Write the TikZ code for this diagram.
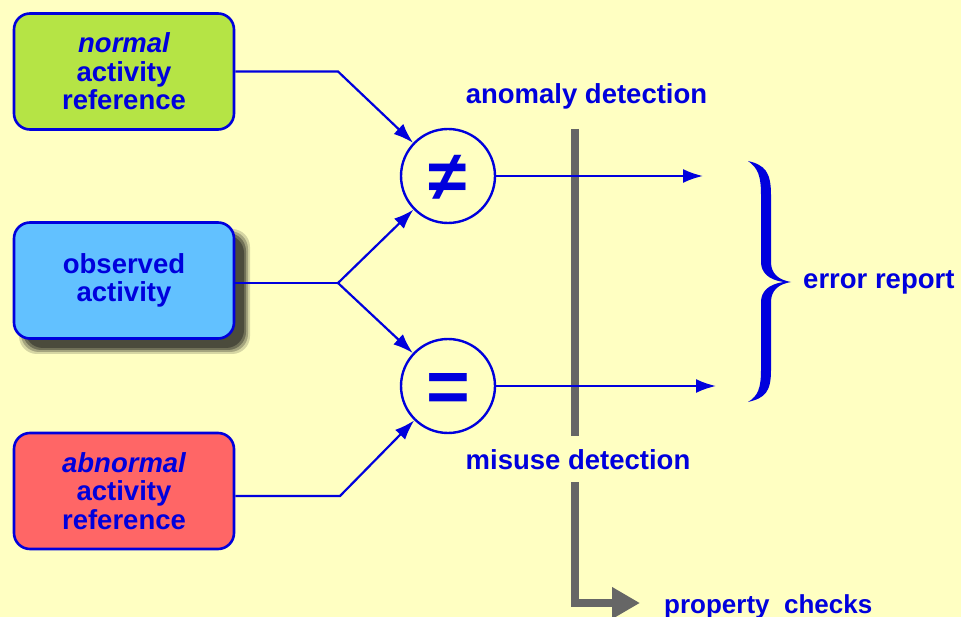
\documentclass[tikz,border=0pt]{standalone}
\usepackage{fontspec}
\setmainfont{Liberation Sans}
\usetikzlibrary{arrows.meta}
\definecolor{bg}{HTML}{FFFFC2}
\definecolor{ink}{HTML}{0000DD}
\definecolor{lgreen}{HTML}{B5E445}
\definecolor{lblue}{HTML}{62C1FF}
\definecolor{lred}{HTML}{FF6666}
\definecolor{barc}{HTML}{666666}
\definecolor{shadowc}{HTML}{33332A}
\begin{document}
\begin{tikzpicture}[x=1pt,y=-1pt,
  box/.style={draw=ink,line width=2.6pt,rounded corners=16pt,minimum width=220pt,minimum height=116pt,align=center,font=\fontsize{27.5}{28.5}\selectfont\bfseries,text=ink},
  cmp/.style={circle,draw=ink,line width=2.4pt,minimum size=94pt,inner sep=0pt,text=ink},
  conn/.style={draw=ink,line width=2.2pt},
  arr/.style={conn,-{Latex[length=20pt,width=14pt]}},
  lbl/.style={text=ink,font=\fontsize{27.5}{28.5}\selectfont\bfseries,inner sep=0pt},
  barline/.style={draw=barc,line width=8pt}
]
\fill[bg] (0,0) rectangle (961,617);
\useasboundingbox (0,0) rectangle (961,617);

% shadow of the observed-activity box
\foreach \e/\o in {5/0.2,3/0.3,1/0.45,-1/0.6}{
  \fill[shadowc,opacity=\o,rounded corners=18pt] (24-\e,234-\e) rectangle (245+\e,349+\e);
}

% grey bar (drawn first, blue lines pass over it)
\coordinate (b0) at (575,129);
\coordinate (b1) at (575,603);
\coordinate (b2) at (640,603);
\draw[barline,-{Triangle[length=28pt,width=30pt]}] (b0) -- (b1) -- (b2);

% boxes
\node[box,fill=lgreen] (nor) at (124,71.5) {{\itshape normal}\\activity\\reference};
\node[box,fill=lblue] (obs) at (124,280.5) {observed\\activity};
\node[box,fill=lred] (abn) at (124,491) {{\itshape abnormal}\\activity\\reference};

% comparators
\node[cmp,font=\fontsize{70}{70}\selectfont\bfseries,text height=50pt,text depth=0pt] (ne) at (448,176) {≠};
\node[cmp,font=\fontsize{75}{75}\selectfont\bfseries,text height=53pt,text depth=0pt] (eq) at (448,386) {=};

% junctions
\coordinate (j1) at (338,71.5);
\coordinate (j2) at (338,283);
\coordinate (j3) at (340,496);
\coordinate (o1) at (703,176);
\coordinate (o2) at (716,386);

\draw[arr] (nor.east) -- (j1) -- (ne);
\draw[conn] (obs.east |- j2) -- (j2);
\draw[arr] (j2) -- (ne);
\draw[arr] (j2) -- (eq);
\draw[arr] (abn.east |- j3) -- (j3) -- (eq);
\draw[arr] (ne) -- (o1);
\draw[arr] (eq) -- (o2);

% labels
\node[lbl,anchor=base] (ano) at (586.5,104) {anomaly detection};
\node[lbl,anchor=base,fill=bg,inner ysep=13pt] (mis) at (578,469) {misuse detection};
\node[lbl,anchor=base west] (err) at (803,289) {error report};
\node[lbl,anchor=base west,font=\fontsize{26}{28}\selectfont\bfseries] (prop) at (664,613) {property\ \ checks};

% brace
\fill[ink] (748,161) .. controls (765,165) and (771,172) .. (771,195) -- (771,262)
  .. controls (771,274) and (779,280) .. (791,282)
  .. controls (779,284) and (771,290) .. (771,302) -- (771,370)
  .. controls (771,392) and (765,398) .. (748,402)
  .. controls (758,396) and (761,388) .. (761,370) -- (761,302)
  .. controls (761,292) and (768,284) .. (784,282)
  .. controls (768,280) and (761,272) .. (761,262) -- (761,195)
  .. controls (761,176) and (758,168) .. (748,161) -- cycle;
\end{tikzpicture}
\end{document}
